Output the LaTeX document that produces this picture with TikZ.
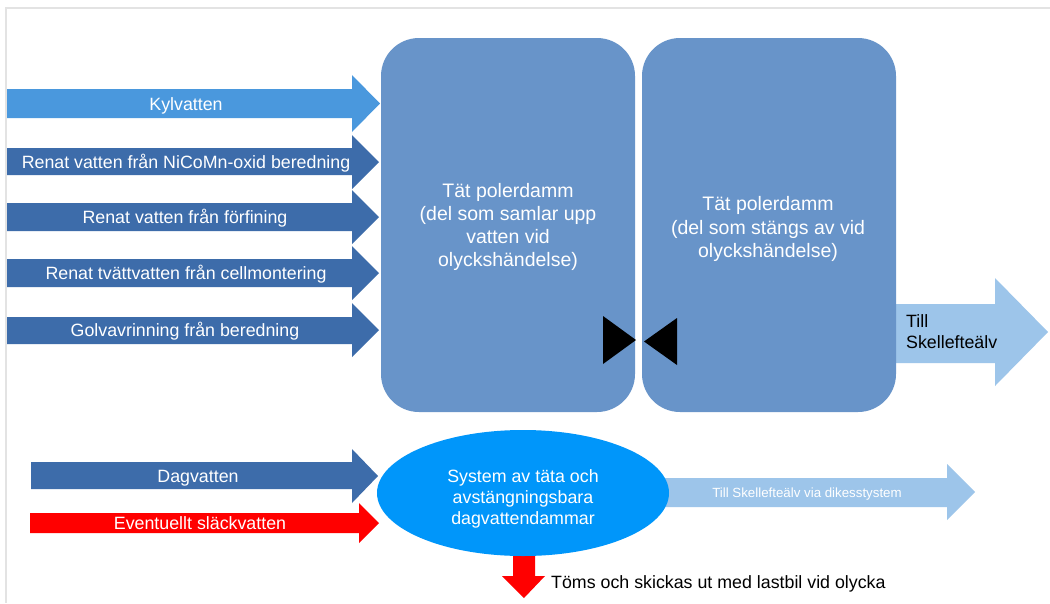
\documentclass[tikz,border=0pt]{standalone}
\usepackage{fontspec}
\setmainfont{Liberation Sans}
\usetikzlibrary{shapes.geometric}
\definecolor{kylblue}{RGB}{74,152,221}
\definecolor{darkblue}{RGB}{61,108,170}
\definecolor{pondblue}{RGB}{104,148,201}
\definecolor{paleblue}{RGB}{157,197,234}
\definecolor{ellblue}{RGB}{0,150,250}
\definecolor{framegray}{RGB}{227,227,227}
% color, x left, x head, x tip, y body top, y body bottom, y head top, y head bottom
\newcommand\blockarrow[8]{%
  \fill[#1] (#2,#5) -- (#3,#5) -- (#3,#7) -- (#4,{(#7+#8)/2}) -- (#3,#8) -- (#3,#6) -- (#2,#6) -- cycle;}
\tikzset{
  lbl/.style={text=white, font=\fontsize{17.8}{21}\selectfont, inner sep=0pt, anchor=base},
  blk/.style={text=black, font=\fontsize{17.8}{21}\selectfont, inner sep=0pt},
  pond/.style={fill=pondblue, draw=none, rounded corners=38pt, minimum width=254pt, minimum height=374pt,
    text=white, font=\fontsize{19.5}{23.3}\selectfont, align=center, inner sep=0pt},
  valve/.style={fill=black, draw=none},
}
\begin{document}
\begin{tikzpicture}[x=1pt,y=-1pt]
\useasboundingbox (0,0) rectangle (1050,603);
\fill[white] (0,0) rectangle (1050,603);
% frame
\draw[framegray, line width=2.5pt] (6,603) -- (6,8) -- (1050,8);

% outgoing arrows (behind ponds / ellipse)
\blockarrow{paleblue}{880}{995}{1048}{304}{363}{278}{386}
\blockarrow{paleblue}{640}{947}{975}{478}{507}{464}{520}
\fill[red] (513,540) -- (535,540) -- (535,576) -- (545,576) -- (524,598) -- (502,576) -- (513,576) -- cycle;

% ponds
\node[pond] (p1) at (508,225) {};
\node[pond] (p2) at (769,225) {};
\node[pond, fill=none, minimum width=0pt, minimum height=0pt] (t1) at (508,227) {Tät polerdamm\\(del som samlar upp\\vatten vid\\olyckshändelse)};
\node[pond, fill=none, minimum width=0pt, minimum height=0pt] (t2) at (768,229) {Tät polerdamm\\(del som stängs av vid\\olyckshändelse)};

% valve
\fill[valve] (603,316) -- (603,364) -- (636,340) -- cycle;
\fill[valve] (677,318) -- (677,365) -- (644,341.5) -- cycle;

% ellipse
\node[ellipse, fill=ellblue, draw=none, minimum width=292pt, minimum height=126pt, inner sep=0pt] (e) at (523,493) {};
\node[text=white, font=\fontsize{17.8}{21}\selectfont, align=center, inner sep=0pt] (et) at (523,498.5) {System av täta och\\avstängningsbara\\dagvattendammar};

% incoming arrows
\blockarrow{kylblue}{7}{352}{380}{89}{118}{75}{132}
\blockarrow{darkblue}{7}{352}{379}{148}{175}{135}{189}
\blockarrow{darkblue}{7}{352}{379}{203}{231}{190}{244}
\blockarrow{darkblue}{7}{352}{379}{259}{287}{246}{300}
\blockarrow{darkblue}{7}{352}{379}{317}{344}{303}{357}
\blockarrow{darkblue}{31}{352}{378}{462}{489}{449}{503}
\blockarrow{red}{30}{359}{379}{513}{533}{503}{543}

% labels
\node[lbl] (l1) at (186,110.4) {Kylvatten};
\node[lbl] (l2) at (186,168.4) {Renat vatten från NiCoMn-oxid beredning};
\node[lbl] (l3) at (185,223.4) {Renat vatten från förfining};
\node[lbl] (l4) at (186,279.4) {Renat tvättvatten från cellmontering};
\node[lbl] (l5) at (185,336.4) {Golvavrinning från beredning};
\node[lbl] (l6) at (198,482.4) {Dagvatten};
\node[lbl] (l7) at (200,529.4) {Eventuellt släckvatten};

\node[blk, align=left, anchor=north west] (o1) at (906,314) {Till\\Skellefteälv};
\node[text=white, font=\fontsize{13.3}{16}\selectfont, inner sep=0pt, anchor=base] (o2) at (807,497.8) {Till Skellefteälv via dikesstystem};
\node[blk, anchor=base west] (o3) at (551,588.4) {Töms och skickas ut med lastbil vid olycka};
\end{tikzpicture}
\end{document}
